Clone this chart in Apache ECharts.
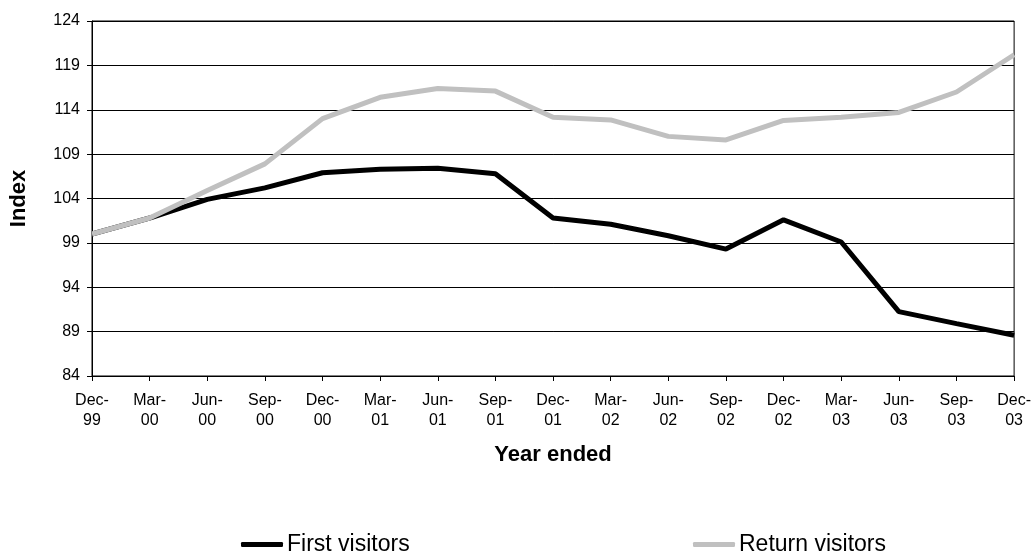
<!DOCTYPE html>
<html>
<head>
<meta charset="utf-8" />
<title>Visitors index</title>
<script src="https://cdn.jsdelivr.net/npm/echarts@6/dist/echarts.min.js"></script>
<style>
  html, body { margin: 0; padding: 0; background: #fff; }
  #container { width: 1034px; height: 554px; }
</style>
</head>
<body>
<div id="container"></div>
<script>
var quarters = ['Dec-\n99', 'Mar-\n00', 'Jun-\n00', 'Sep-\n00', 'Dec-\n00', 'Mar-\n01', 'Jun-\n01', 'Sep-\n01',
    'Dec-\n01', 'Mar-\n02', 'Jun-\n02', 'Sep-\n02', 'Dec-\n02', 'Mar-\n03', 'Jun-\n03', 'Sep-\n03', 'Dec-\n03'];
var firstVisitors = [100.0, 101.8, 103.9, 105.2, 106.9, 107.3, 107.4, 106.8,
    101.8, 101.1, 99.8, 98.3, 101.6, 99.1, 91.25, 89.9, 88.6];
var returnVisitors = [100.0, 101.8, 104.9, 107.9, 113.0, 115.4, 116.4, 116.1,
    113.15, 112.85, 111.0, 110.6, 112.8, 113.15, 113.7, 116.0, 120.2];
var yMin = 84, yMax = 124, yStep = 5;

var myChart = echarts.init(document.getElementById('container'));
var font = 'Liberation Sans, Arial, sans-serif';

var option = {
    animation: false,
    backgroundColor: '#fff',
    textStyle: { fontFamily: font },
    grid: {
        left: 92, right: 18, top: 21, bottom: 178,
        show: true, borderColor: '#000', borderWidth: 1
    },
    legend: [
        {
            data: ['First visitors'],
            left: 241, top: 533, padding: 0,
            icon: 'roundRect', itemWidth: 42, itemHeight: 5, itemGap: 0,
            textStyle: { fontFamily: font, fontSize: 23, color: '#000', padding: [0, 0, 0, -1] }
        },
        {
            data: ['Return visitors'],
            left: 693, top: 533, padding: 0,
            icon: 'roundRect', itemWidth: 42, itemHeight: 5, itemGap: 0,
            textStyle: { fontFamily: font, fontSize: 23, color: '#000', padding: [0, 0, 0, -1] }
        }
    ],
    xAxis: {
        type: 'category',
        data: quarters,
        boundaryGap: false,
        name: 'Year ended',
        nameLocation: 'middle',
        nameGap: 68,
        nameTextStyle: { fontFamily: font, fontSize: 22, fontWeight: 'bold', color: '#000' },
        axisLine: { lineStyle: { color: '#000', width: 1 } },
        axisTick: { show: true, length: 5, lineStyle: { color: '#000' } },
        axisLabel: { fontFamily: font, fontSize: 16, color: '#000', lineHeight: 20, margin: 15, interval: 0 },
        splitLine: { show: false }
    },
    yAxis: {
        type: 'value',
        min: yMin, max: yMax, interval: yStep,
        name: 'Index',
        nameLocation: 'middle',
        nameGap: 62,
        nameRotate: 90,
        nameTextStyle: { fontFamily: font, fontSize: 22, fontWeight: 'bold', color: '#000' },
        axisLine: { show: true, lineStyle: { color: '#000', width: 1 } },
        axisTick: { show: true, length: 5, lineStyle: { color: '#000' } },
        axisLabel: { fontFamily: font, fontSize: 16, color: '#000', margin: 12 },
        splitLine: { show: true, lineStyle: { color: '#000', width: 1 } }
    },
    series: [
        {
            name: 'First visitors',
            type: 'line',
            data: firstVisitors,
            symbol: 'none',
            color: '#000',
            lineStyle: { color: '#000', width: 5 },
            z: 3
        },
        {
            name: 'Return visitors',
            type: 'line',
            data: returnVisitors,
            symbol: 'none',
            color: '#c0c0c0',
            lineStyle: { color: '#c0c0c0', width: 5 },
            z: 4
        }
    ]
};
myChart.setOption(option);
</script>
</body>
</html>
